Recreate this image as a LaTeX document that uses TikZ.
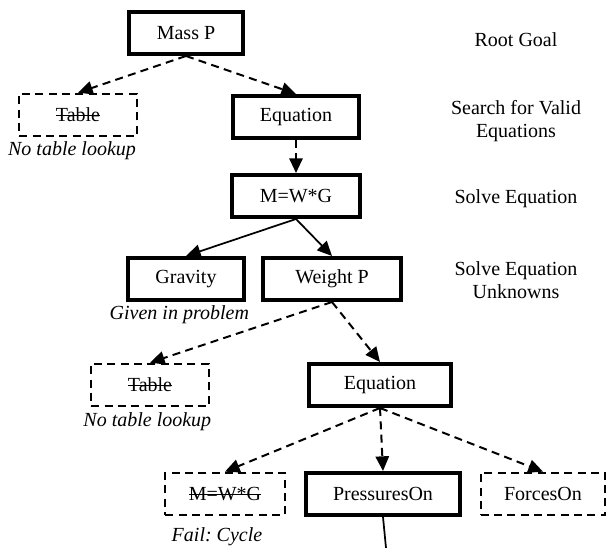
\documentclass[tikz,border=0pt]{standalone}
\usepackage{fontspec}
\setmainfont{Liberation Serif}
\usetikzlibrary{arrows.meta,positioning}
\frenchspacing

% struck-out text for pruned goals
\newsavebox\strikebox
\newcommand{\crossout}[1]{\sbox\strikebox{#1}\rlap{\rule[0.27em]{\wd\strikebox}{0.06em}}\usebox\strikebox}

\begin{document}
\begin{tikzpicture}[x=0.75pt,y=-0.75pt,font=\fontsize{15}{17.5}\selectfont]

\tikzset{goalbox/.style={draw,line width=3pt,inner xsep=20.5pt,minimum height=31.5pt},
prunedbox/.style={draw,line width=1.5pt,dash pattern=on 6pt off 4pt,inner xsep=17.5pt,minimum width=88pt,minimum height=32pt},
tryedge/.style={line width=1.5pt,dash pattern=on 6pt off 4pt,-{Triangle[length=11pt,width=10pt]}},
solveedge/.style={line width=1.3pt,-{Triangle[length=11pt,width=10pt]}},
note/.style={font=\fontsize{15}{17.5}\selectfont\itshape,inner sep=1pt},
level/.style={align=center}}

\useasboundingbox (0,0) rectangle (608,548);

% Goal tree
\node (massP) [goalbox] at (186,33) {Mass P};
\node (table1) [prunedbox] at (78,115) {\crossout{Table}};
\node (eq1) [goalbox] at (296,117) {Equation};
\node (mwg) [goalbox] at (296,196) {M=W*G};
\node (gravity) [goalbox] at (186,279) {Gravity};
\node (weightP) [goalbox,minimum width=104pt] at (332,279) {Weight P};
\node (table2) [prunedbox] at (150,385) {\crossout{Table}};
\node (eq2) [goalbox,minimum width=106pt] at (380,385) {Equation};
\node (mwgCycle) [prunedbox] at (225,494) {\crossout{M=W*G}};
\node (pressures) [goalbox] at (383,494) {PressuresOn};
\node (forces) [prunedbox] at (543,494) {ForcesOn};
\coordinate (more) at (386,548);

% Notes under pruned branches
\node[note,below=2pt of table1,xshift=-4.5pt] (noTable1) {No table lookup};
\node[note,below=1.5pt of gravity,xshift=-5pt] (given) {Given in problem};
\node[note,below=3pt of table2,xshift=-2pt] (noTable2) {No table lookup};
\node[note,below=7pt of mwgCycle,xshift=-6pt] (cycle) {Fail: Cycle};

% Edges
\draw[tryedge] (massP.south) -- (table1.north); \draw[tryedge] (massP.south) -- (eq1.north);
\draw[tryedge] (eq1.south) -- (mwg.north);
\draw[solveedge] (mwg.south) -- (gravity.north); \draw[solveedge] (mwg.south) -- (weightP.north);
\draw[tryedge] (weightP.south) -- (table2.north); \draw[tryedge] (weightP.south) -- (eq2.north);
\draw[tryedge] (eq2.south) -- (mwgCycle.north); \draw[tryedge] (eq2.south) -- (pressures.north); \draw[tryedge] (eq2.south) -- (forces.north);
\draw[line width=1.3pt] (pressures.south) -- (more);

% Level labels
\node[level] (rootLbl) at (516,40) {Root Goal};
\node[level] (searchLbl) at (516,121) {Search for Valid\\Equations};
\node[level] (solveLbl) at (516,199) {Solve Equation};
\node[level] (unknownsLbl) at (516,280) {Solve Equation\\Unknowns};

\end{tikzpicture}
\end{document}
